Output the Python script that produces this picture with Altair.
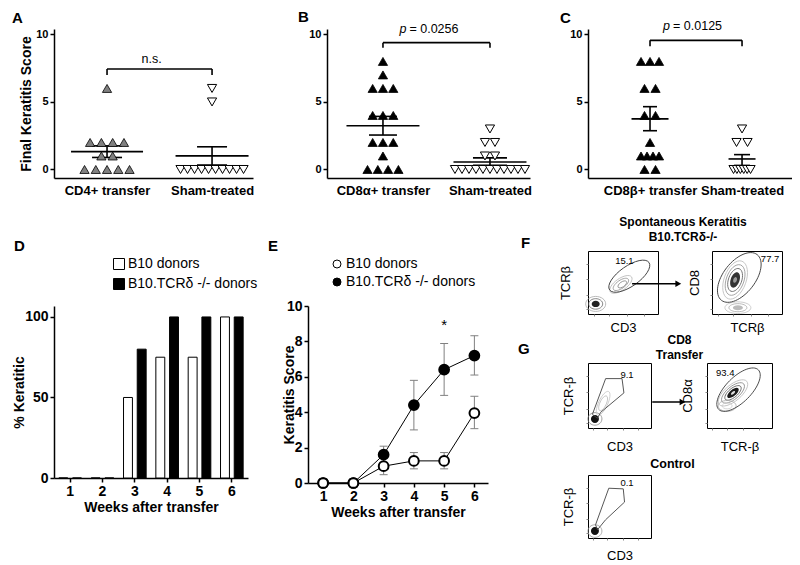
import altair as alt
import pandas as pd

FONT = "Liberation Sans"

# ---------------- data: panels A–C (final keratitis score per mouse) ----------------
a_groups = ["CD4+ transfer", "Sham-treated"]
a_transfer = [6, 2, 2, 2, 2, 1, 1, 0, 0, 0, 0, 0]
a_sham = [6, 5, 0, 0, 0, 0, 0, 0, 0, 0, 0, 0]
a_mean = [1.32, 1.01]
a_sem_low = [0.89, 0.33]
a_sem_high = [1.75, 1.68]

b_groups = ["CD8α+ transfer", "Sham-treated"]
b_transfer = [8, 7, 6, 6, 6, 4, 4, 4, 2, 2, 2, 1, 0, 0, 0, 0]
b_sham = [3, 2, 2, 1, 1, 0, 0, 0, 0, 0, 0, 0, 0, 0, 0, 0]
b_mean = [3.24, 0.55]
b_sem_low = [2.55, 0.31]
b_sem_high = [3.93, 0.86]

c_groups = ["CD8β+ transfer", "Sham-treated"]
c_transfer = [8, 8, 8, 6, 6, 4, 4, 2, 1, 1, 1, 1, 0, 0]
c_sham = [3, 2, 2, 0, 0, 0, 0, 0, 0]
c_mean = [3.75, 0.78]
c_sem_low = [2.87, 0.30]
c_sem_high = [4.65, 1.10]

stat_labels = ["n.s.", "=  0.0256", "=  0.0125"]
bracket_y = [7.44, 9.39, 9.56]
bracket_end = [7.0, 9.02, 9.13]
stat_y = [8.2, 10.38, 10.62]

# ---------------- data: panel D (% keratitic) ----------------
weeks = [1, 2, 3, 4, 5, 6]
donors = ["B10 donors", "B10.TCRδ -/- donors"]
d_b10 = [0, 0, 50, 75, 75, 100]
d_tcr = [0, 0, 80, 100, 100, 100]

# ---------------- data: panel E (keratitis score over time) ----------------
e_b10 = [0, 0, 0.95, 1.25, 1.25, 3.95]
e_b10_low = [0, 0, 0.47, 0.80, 0.80, 3.07]
e_b10_high = [0, 0, 1.43, 1.72, 1.72, 4.90]
e_tcr = [0, 0, 1.60, 4.40, 6.40, 7.20]
e_tcr_low = [0, 0, 1.10, 3.00, 4.95, 6.10]
e_tcr_high = [0, 0, 2.08, 5.80, 7.88, 8.32]
e_star_week = [5]
e_star_y = [8.9]

# ---------------- data: panels F/G (flow cytometry sketches, unit box coords) ----------------
f1_ring_x = [0.11, 0.11, 0.11, 0.47, 0.47, 0.49]
f1_ring_y = [0.16, 0.16, 0.16, 0.47, 0.47, 0.47]
f1_ring_r = [10, 7, 4, 13, 9, 5]
f1_ring_ratio = [0.75, 0.75, 0.8, 0.45, 0.45, 0.5]
f1_ring_angle = [0, 0, 0, 325, 325, 325]
f1_ring_color = ["#aaaaaa", "#666666", "#222222", "#bbbbbb", "#999999", "#888888"]
f1_ring_fill = [False, False, True, False, False, False]
f1_gate = [0.59, 0.60, 24, 0.42, 325]
f1_label = ["15.1", 0.52, 0.84]

f2_ring_x = [0.33, 0.33, 0.33, 0.33, 0.33, 0.37, 0.37, 0.37]
f2_ring_y = [0.54, 0.54, 0.54, 0.54, 0.54, 0.10, 0.10, 0.10]
f2_ring_r = [20, 16, 12, 8, 3, 13, 9, 5]
f2_ring_ratio = [0.55, 0.55, 0.55, 0.55, 0.6, 0.45, 0.45, 0.5]
f2_ring_angle = [290, 290, 290, 290, 290, 0, 0, 0]
f2_ring_color = ["#c0c0c0", "#999999", "#666666", "#333333", "#999999", "#c0c0c0", "#aaaaaa", "#bbbbbb"]
f2_ring_fill = [False, False, False, True, True, False, False, True]
f2_gate = [0.39, 0.58, 29, 0.55, 308]
f2_label = ["77.7", 0.83, 0.87]

g1_ring_x = [0.11, 0.11, 0.24, 0.24]
g1_ring_y = [0.14, 0.14, 0.38, 0.38]
g1_ring_r = [7, 4, 13, 8]
g1_ring_ratio = [0.9, 1.0, 0.35, 0.4]
g1_ring_angle = [0, 0, 295, 295]
g1_ring_color = ["#888888", "#111111", "#c8c8c8", "#bbbbbb"]
g1_ring_fill = [False, True, False, False]
g1_poly_x = [0.28, 0.54, 0.57, 0.20, 0.15, 0.07, 0.28]
g1_poly_y = [0.76, 0.76, 0.54, 0.24, 0.15, 0.21, 0.76]
g1_label = ["9.1", 0.62, 0.82]

g2_ring_x = [0.40, 0.40, 0.40, 0.40, 0.40, 0.31, 0.31]
g2_ring_y = [0.54, 0.54, 0.54, 0.54, 0.54, 0.34, 0.34]
g2_ring_r = [18, 14, 10, 7, 2.5, 9, 5]
g2_ring_ratio = [0.45, 0.45, 0.45, 0.45, 0.5, 0.6, 0.6]
g2_ring_angle = [320, 320, 320, 320, 320, 0, 0]
g2_ring_color = ["#bbbbbb", "#888888", "#555555", "#1a1a1a", "#dddddd", "#aaaaaa", "#cccccc"]
g2_ring_fill = [False, False, False, True, True, False, False]
g2_gate = [0.485, 0.59, 28, 0.45, 315]
g2_label = ["93.4", 0.28, 0.85]

ct_ring_x = [0.11, 0.11]
ct_ring_y = [0.11, 0.11]
ct_ring_r = [7, 4]
ct_ring_ratio = [0.9, 1.0]
ct_ring_angle = [0, 0]
ct_ring_color = ["#999999", "#111111"]
ct_ring_fill = [False, True]
ct_poly_x = [0.33, 0.56, 0.58, 0.28, 0.15, 0.12, 0.33]
ct_poly_y = [0.79, 0.78, 0.57, 0.29, 0.13, 0.21, 0.79]
ct_label = ["0.1", 0.62, 0.87]

# =====================================================================
Y_DOMAIN = [-0.63, 10.4]
TOP_H = 149
BOLD = "bold"


def score_panel(groups, transfer, sham, mean, lo, hi, stat, br_y, br_end, st_y, italic_p,
                width, xdom, fill0, spans, mean_half, cap_half, letter, letter_dx,
                letter_off, ytitle, stat_dx):
    ppu = width / (xdom[1] - xdom[0])
    pts = []
    for gi, vals in enumerate([transfer, sham]):
        counts = {}
        for v in vals:
            counts[v] = counts.get(v, 0) + 1
        cap, span = spans[gi]
        for v, n in counts.items():
            step = cap if n < 2 else min(cap, span / (n - 1))
            for i in range(n):
                pts.append({"g": gi, "x": gi + (i - (n - 1) / 2) * step / ppu, "y": v})
    df_pts = pd.DataFrame(pts)

    xs = alt.Scale(domain=xdom, nice=False, zero=False)
    ys = alt.Scale(domain=Y_DOMAIN, nice=False, zero=False)
    expr = f"datum.value == 0 ? '{groups[0]}' : '{groups[1]}'"
    xax = alt.Axis(values=[0, 1], labelExpr=expr, ticks=False, grid=False, title=None,
                   labelFontSize=13, labelFontWeight=BOLD, labelPadding=6,
                   labelFlush=False, domainWidth=1.5)
    if ytitle:
        yax = alt.Axis(values=[0, 5, 10], grid=False, tickSize=4, tickWidth=1.5,
                       domainWidth=1.5, labelFontSize=11, labelFontWeight=BOLD,
                       labelPadding=2, title=ytitle, titleFontSize=14,
                       titleFontWeight=BOLD, titleX=-21)
    else:
        yax = alt.Axis(values=[0, 5, 10], grid=False, tickSize=4, tickWidth=1.5,
                       domainWidth=1.5, labelFontSize=11, labelFontWeight=BOLD,
                       labelPadding=2, title=None)

    def X(f):
        return alt.X(f, type="quantitative", scale=xs, axis=xax)

    def Y(f):
        return alt.Y(f, type="quantitative", scale=ys, axis=yax)

    p0 = alt.Chart(df_pts[df_pts.g == 0]).mark_point(
        shape="triangle-up", filled=True, fill=fill0, stroke="black",
        strokeWidth=0.8, size=85, opacity=1).encode(x=X("x"), y=Y("y"))
    p1 = alt.Chart(df_pts[df_pts.g == 1]).mark_point(
        shape="triangle-down", filled=True, fill="white", stroke="black",
        strokeWidth=1, size=85, opacity=1).encode(x=X("x"), y=Y("y"))

    df_m = pd.DataFrame({"c": [0, 1], "m": mean, "lo": lo, "hi": hi})
    df_m["ml"] = [0 - mean_half[0] / ppu, 1 - mean_half[1] / ppu]
    df_m["mr"] = [0 + mean_half[0] / ppu, 1 + mean_half[1] / ppu]
    df_m["cl"] = [0 - cap_half[0] / ppu, 1 - cap_half[1] / ppu]
    df_m["cr"] = [0 + cap_half[0] / ppu, 1 + cap_half[1] / ppu]
    base_m = alt.Chart(df_m)
    m_rule = base_m.mark_rule(color="black", strokeWidth=1.6).encode(x=X("ml"), x2="mr", y=Y("m"))
    s_rule = base_m.mark_rule(color="black", strokeWidth=1.6).encode(x=X("c"), y=Y("lo"), y2="hi")
    c_lo = base_m.mark_rule(color="black", strokeWidth=1.6).encode(x=X("cl"), x2="cr", y=Y("lo"))
    c_hi = base_m.mark_rule(color="black", strokeWidth=1.6).encode(x=X("cl"), x2="cr", y=Y("hi"))

    df_br = pd.DataFrame({"x0": [0], "x1": [1], "yb": [br_y], "xm": [0.5], "yt": [st_y]})
    df_end = pd.DataFrame({"x": [0, 1], "yb": [br_y, br_y], "ye": [br_end, br_end]})
    br_h = alt.Chart(df_br).mark_rule(color="black", strokeWidth=1.6).encode(
        x=X("x0"), x2="x1", y=Y("yb"))
    br_v = alt.Chart(df_end).mark_rule(color="black", strokeWidth=1.6).encode(
        x=X("x"), y=Y("yb"), y2="ye")
    layers = [m_rule, s_rule, c_lo, c_hi, p0, p1, br_h, br_v]
    if italic_p:
        layers.append(alt.Chart(df_br).mark_text(
            text="p", fontStyle="italic", fontSize=12.5, align="left", baseline="middle",
            dx=stat_dx[0]).encode(x=X("xm"), y=Y("yt")))
        layers.append(alt.Chart(df_br).mark_text(
            text=stat, fontSize=12.5, align="left", baseline="middle",
            dx=stat_dx[1]).encode(x=X("xm"), y=Y("yt")))
    else:
        layers.append(alt.Chart(df_br).mark_text(
            text=stat, fontSize=12.5, align="center", baseline="middle",
            dx=stat_dx[0]).encode(x=X("xm"), y=Y("yt")))
    return alt.layer(*layers).properties(
        width=width, height=TOP_H,
        title=alt.TitleParams(letter, anchor="start", frame="group", dx=letter_dx,
                              offset=letter_off, fontSize=15, fontWeight=BOLD))


A = score_panel(a_groups, a_transfer, a_sham, a_mean, a_sem_low, a_sem_high,
                stat_labels[0], bracket_y[0], bracket_end[0], stat_y[0], False,
                199, [-0.505, 1.39], "#808080", [(11.3, 45), (7.5, 63)],
                [36, 36.5], [15, 15], "A", -42, 2, "Final Keratitis Score", [-8])
B = score_panel(b_groups, b_transfer, b_sham, b_mean, b_sem_low, b_sem_high,
                stat_labels[1], bracket_y[1], bracket_end[1], stat_y[1], True,
                203, [-0.523, 1.374], "black", [(10.3, 31), (10, 70)],
                [36.5, 36.5], [14, 17], "B", -29, -2, None, [-37, -27])
C = score_panel(c_groups, c_transfer, c_sham, c_mean, c_sem_low, c_sem_high,
                stat_labels[2], bracket_y[2], bracket_end[2], stat_y[2], True,
                204, [-0.674, 1.543], "black", [(11, 18), (11, 17)],
                [18.5, 13.5], [7, 8], "C", -28, -6, None, [-33, -23])

# ---------------- panel D ----------------
df_d = pd.DataFrame({
    "week": weeks * 2,
    "donor": [donors[0]] * 6 + [donors[1]] * 6,
    "pct": d_b10 + d_tcr,
})
D = alt.Chart(df_d).mark_bar(stroke="black", strokeWidth=1).encode(
    x=alt.X("week:O", scale=alt.Scale(paddingInner=0.3, paddingOuter=0.15),
            axis=alt.Axis(labelAngle=0, title="Weeks after transfer", labelFontSize=14,
                          labelFontWeight=BOLD, tickSize=4, tickWidth=1.5,
                          domainWidth=1.5, labelPadding=2, titleFontSize=14,
                          titleFontWeight=BOLD, titlePadding=2)),
    xOffset=alt.XOffset("donor:N", scale=alt.Scale(domain=donors, paddingInner=0.35)),
    y=alt.Y("pct:Q", scale=alt.Scale(domain=[0, 106.8], nice=False, zero=True),
            axis=alt.Axis(values=[0, 50, 100], grid=False, tickSize=4, tickWidth=1.5,
                          domainWidth=1.5, labelFontSize=14, labelFontWeight=BOLD,
                          labelPadding=2, title="% Keratitic", titleFontSize=14,
                          titleFontWeight=BOLD, titleX=-28)),
    fill=alt.Fill("donor:N", scale=alt.Scale(domain=donors, range=["white", "black"]),
                  legend=alt.Legend(title=None, orient="none", legendX=58, legendY=-49,
                                    symbolType="square", symbolSize=121,
                                    symbolStrokeColor="black", symbolStrokeWidth=1,
                                    labelFontSize=14, labelOffset=2, rowPadding=4)),
).properties(width=194, height=172,
             title=alt.TitleParams("D", anchor="start", frame="group", dx=-40, offset=3,
                                   fontSize=15, fontWeight=BOLD))

# ---------------- panel E ----------------
df_e = pd.DataFrame({
    "week": weeks * 2,
    "series": [donors[1]] * 6 + [donors[0]] * 6,
    "v": e_tcr + e_b10,
    "lo": e_tcr_low + e_b10_low,
    "hi": e_tcr_high + e_b10_high,
})
df_err = df_e[df_e.hi > df_e.lo]
ex_scale = alt.Scale(domain=[0.5, 6.45], nice=False, zero=False)
ey_scale = alt.Scale(domain=[0, 10], nice=False)
ex_axis = alt.Axis(values=weeks, grid=False, tickSize=4, tickWidth=1.5, domainWidth=1.5,
                   labelFontSize=14, labelFontWeight=BOLD, labelPadding=2,
                   title="Weeks after transfer", titleFontSize=14, titleFontWeight=BOLD,
                   titlePadding=2, labelFlush=False)
ey_axis = alt.Axis(values=[0, 2, 4, 6, 8, 10], grid=False, tickSize=4, tickWidth=1.5,
                   domainWidth=1.5, labelFontSize=14, labelFontWeight=BOLD, labelPadding=2,
                   title="Keratitis Score", titleFontSize=14, titleFontWeight=BOLD,
                   titleX=-12)


def EX(f):
    return alt.X(f, type="quantitative", scale=ex_scale, axis=ex_axis)


def EY(f):
    return alt.Y(f, type="quantitative", scale=ey_scale, axis=ey_axis)


e_err = alt.Chart(df_err).mark_rule(color="#808080", strokeWidth=1).encode(
    x=EX("week"), y=EY("lo"), y2="hi")
e_cap_lo = alt.Chart(df_err).mark_tick(orient="horizontal", size=8, thickness=1,
                                       color="#808080", opacity=1).encode(x=EX("week"), y=EY("lo"))
e_cap_hi = alt.Chart(df_err).mark_tick(orient="horizontal", size=8, thickness=1,
                                       color="#808080", opacity=1).encode(x=EX("week"), y=EY("hi"))
e_line = alt.Chart(df_e).mark_line(color="black", strokeWidth=1).encode(
    x=EX("week"), y=EY("v"), detail="series:N")
e_pts = alt.Chart(df_e).mark_point(filled=True, size=95, stroke="black", strokeWidth=2,
                                   opacity=1).encode(
    x=EX("week"), y=EY("v"),
    fill=alt.Fill("series:N", scale=alt.Scale(domain=donors, range=["white", "black"]),
                  legend=alt.Legend(title=None, orient="none", legendX=22, legendY=-49,
                                    symbolType="circle", symbolSize=64,
                                    symbolStrokeColor="black", symbolStrokeWidth=1,
                                    labelFontSize=14, labelOffset=2, rowPadding=4)))
df_star = pd.DataFrame({"week": e_star_week, "v": e_star_y})
e_star = alt.Chart(df_star).mark_text(text="*", fontSize=15, baseline="middle").encode(
    x=EX("week"), y=EY("v"))
E = alt.layer(e_err, e_cap_lo, e_cap_hi, e_line, e_pts, e_star).properties(
    width=180, height=177,
    title=alt.TitleParams("E", anchor="start", frame="group", dx=-40, offset=3,
                          fontSize=15, fontWeight=BOLD))


# ---------------- panels F / G ----------------
def ell(ratio):
    return f"M-1,0A1,{ratio},0,1,1,1,0A1,{ratio},0,1,1,-1,0Z"


def flow_panel(rx, ry, rr, rratio, rangle, rcolor, rfill, gate, poly_x, poly_y, label,
               arrow, xtitle, ytitle, w, h, xpad, ypad, title):
    xs = alt.Scale(domain=[0, 1], nice=False, zero=False)
    ys = alt.Scale(domain=[0, 1], nice=False, zero=False)
    xax = alt.Axis(title=xtitle, labels=False, domain=False, grid=False, ticks=True,
                   tickSize=2, tickColor="#888888", values=[0.08, 0.3, 0.55, 0.8],
                   titleFontSize=13, titleFontWeight="normal", titlePadding=xpad)
    yax = alt.Axis(title=ytitle, labels=False, domain=False, grid=False, ticks=True,
                   tickSize=2, tickColor="#888888", values=[0.08, 0.3, 0.55, 0.8],
                   titleFontSize=13, titleFontWeight="normal", titlePadding=ypad)

    def X(f):
        return alt.X(f, type="quantitative", scale=xs, axis=xax)

    def Y(f):
        return alt.Y(f, type="quantitative", scale=ys, axis=yax)

    df_r = pd.DataFrame({
        "x": rx, "y": ry,
        "size": [(2 * r) ** 2 for r in rr],
        "shape": [ell(q) for q in rratio],
        "angle": rangle, "color": rcolor, "filled": rfill,
    })
    enc = dict(x=X("x"), y=Y("y"), size=alt.Size("size:Q", scale=None),
               shape=alt.Shape("shape:N", scale=None), angle=alt.Angle("angle:Q", scale=None))
    layers = [
        alt.Chart(df_r[df_r.filled]).mark_point(filled=True, strokeWidth=0, opacity=1).encode(
            fill=alt.Fill("color:N", scale=None), **enc),
        alt.Chart(df_r[~df_r.filled]).mark_point(filled=False, strokeWidth=0.8, opacity=1).encode(
            stroke=alt.Stroke("color:N", scale=None), **enc),
    ]
    if gate is not None:
        df_g = pd.DataFrame({"x": [gate[0]], "y": [gate[1]], "size": [(2 * gate[2]) ** 2],
                             "shape": [ell(gate[3])], "angle": [gate[4]]})
        layers.append(alt.Chart(df_g).mark_point(filled=False, stroke="#444444",
                                                 strokeWidth=0.9, opacity=1).encode(
            x=X("x"), y=Y("y"), size=alt.Size("size:Q", scale=None),
            shape=alt.Shape("shape:N", scale=None), angle=alt.Angle("angle:Q", scale=None)))
    if poly_x is not None:
        df_p = pd.DataFrame({"x": poly_x, "y": poly_y, "i": list(range(len(poly_x)))})
        layers.append(alt.Chart(df_p).mark_line(color="#444444", strokeWidth=0.9).encode(
            x=X("x"), y=Y("y"), order="i:Q"))
    df_t = pd.DataFrame({"t": [label[0]], "x": [label[1]], "y": [label[2]]})
    layers.append(alt.Chart(df_t).mark_text(fontSize=9.5, baseline="middle").encode(
        x=X("x"), y=Y("y"), text="t:N"))
    if arrow is not None:
        df_a = pd.DataFrame({"x": [arrow[0]], "x2": [arrow[1]], "y": [arrow[3]],
                             "xh": [arrow[2]]})
        layers.append(alt.Chart(df_a).mark_rule(color="black", strokeWidth=1.5).encode(
            x=X("x"), x2="x2", y=Y("y")))
        layers.append(alt.Chart(df_a).mark_point(shape="triangle-right", filled=True,
                                                 color="black", size=45, opacity=1).encode(
            x=X("xh"), y=Y("y")))
    return alt.layer(*layers).properties(
        width=w, height=h, view=alt.ViewBackground(stroke="black", strokeWidth=1),
        title=title)


def big_title(text, dx, offset, size=12):
    return alt.TitleParams(text, anchor="middle", frame="group", dx=dx, offset=offset,
                           fontSize=size, fontWeight=BOLD, lineHeight=15)


def letter_title(text, dx, offset):
    return alt.TitleParams(text, anchor="start", frame="group", dx=dx, offset=offset,
                           fontSize=15, fontWeight=BOLD)


F1 = flow_panel(f1_ring_x, f1_ring_y, f1_ring_r, f1_ring_ratio, f1_ring_angle, f1_ring_color,
                f1_ring_fill, f1_gate, None, None, f1_label, [0.63, 1.26, 1.29, 0.48],
                "CD3", "TCRβ", 70, 63, 5, 13,
                big_title(["Spontaneous Keratitis", "B10.TCRδ-/-"], 60, 7))
F2 = flow_panel(f2_ring_x, f2_ring_y, f2_ring_r, f2_ring_ratio, f2_ring_angle, f2_ring_color,
                f2_ring_fill, f2_gate, None, None, f2_label, None,
                "TCRβ", "CD8", 70, 63, 5, 8, letter_title("F", -191, 0))
G1 = flow_panel(g1_ring_x, g1_ring_y, g1_ring_r, g1_ring_ratio, g1_ring_angle, g1_ring_color,
                g1_ring_fill, None, g1_poly_x, g1_poly_y, g1_label, [1.02, 1.47, 1.50, 0.40],
                "CD3", "TCR-β", 63, 65, 10, 10, big_title(["CD8", "Transfer"], 60, 1))
G2 = flow_panel(g2_ring_x, g2_ring_y, g2_ring_r, g2_ring_ratio, g2_ring_angle, g2_ring_color,
                g2_ring_fill, g2_gate, None, None, g2_label, None,
                "TCR-β", "CD8α", 65, 65, 10, 10, letter_title("G", -189, 6))
CT = flow_panel(ct_ring_x, ct_ring_y, ct_ring_r, ct_ring_ratio, ct_ring_angle, ct_ring_color,
                ct_ring_fill, None, ct_poly_x, ct_poly_y, ct_label, None,
                "CD3", "TCR-β", 63, 63, 9, 10, big_title("Control", 53, 5, 12.5))

# ---------------- layout ----------------
FG = alt.vconcat(
    alt.hconcat(F1, F2, spacing=54, bounds="flush"),
    alt.hconcat(G1, G2, spacing=56, bounds="flush"),
    CT, spacing=112, bounds="flush")
CFG = alt.vconcat(C, FG, spacing=73, bounds="flush")
AB = alt.hconcat(A, B, spacing=74, bounds="flush")
row_top = alt.hconcat(AB, CFG, spacing=534, bounds="flush")
row_de = alt.hconcat(D, E, spacing=60, bounds="flush").resolve_scale(
    fill="independent").resolve_legend(fill="independent")

chart = alt.vconcat(row_top, row_de, spacing=277, bounds="flush").resolve_scale(
    fill="independent").resolve_legend(fill="independent").properties(
    padding={"left": 4, "top": 2, "right": 0, "bottom": 0}
).configure_axis(
    labelFont=FONT, titleFont=FONT, labelColor="black", titleColor="black",
    domainColor="black", tickColor="black"
).configure_view(stroke=None).configure_title(
    font=FONT, color="black"
).configure_legend(labelFont=FONT, labelColor="black").configure_text(
    font=FONT, color="black")

chart.save("out.html", embed_options={"renderer": "svg", "actions": False})
